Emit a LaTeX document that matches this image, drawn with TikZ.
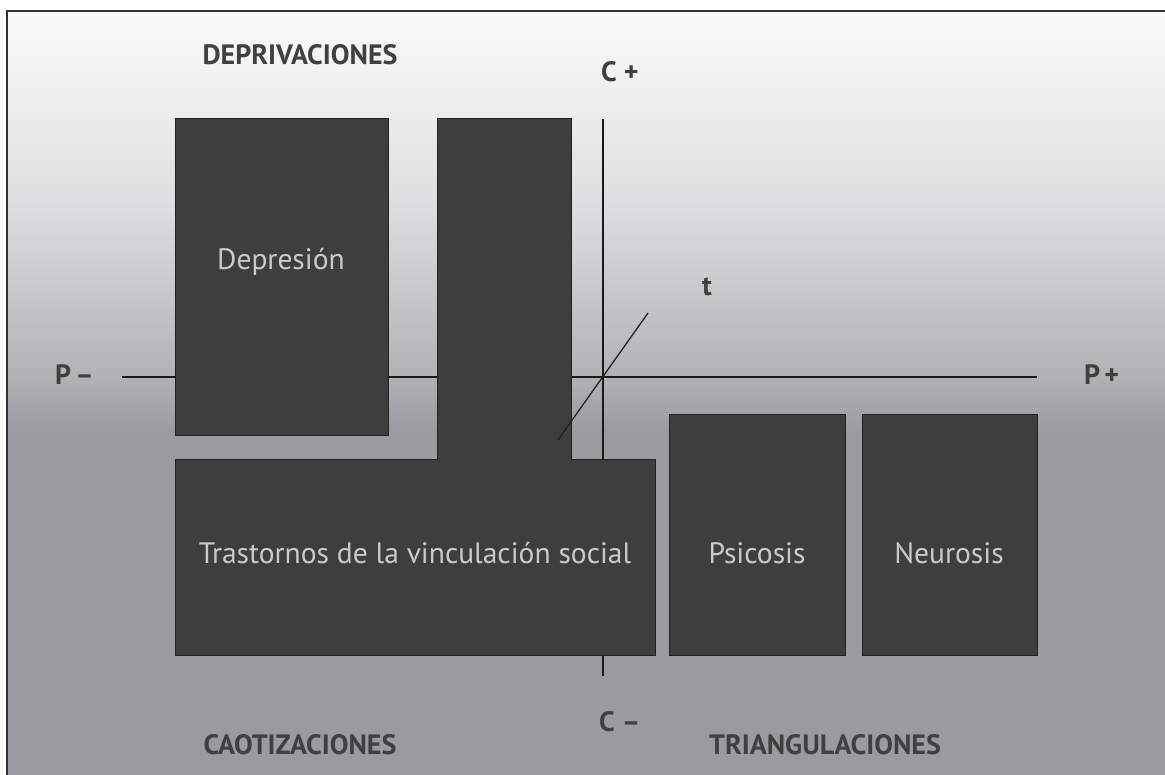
\documentclass[tikz,border=0pt]{standalone}
\usepackage{fontspec}
\setmainfont{PT Sans}
\definecolor{boxc}{HTML}{3E3E3E}
\definecolor{edgec}{HTML}{222222}
\definecolor{lblc}{HTML}{404040}
\definecolor{txtc}{HTML}{C9CACB}
\definecolor{bgA}{HTML}{FBFBFB}
\definecolor{bgB}{HTML}{DEDFE0}
\definecolor{bgC}{HTML}{B1B2B4}
\definecolor{bgD}{HTML}{9A9B9F}
\tikzset{
  lbl/.style={text=lblc, font=\fontsize{28}{32}\selectfont\bfseries, inner sep=0pt},
  boxtxt/.style={text=txtc, font=\fontsize{29.5}{34}\selectfont, inner sep=0pt},
  box/.style={fill=boxc, draw=edgec, line width=1pt},
  axis/.style={draw=black!90, line width=1.6pt},
}
\begin{document}
\begin{tikzpicture}[x=1pt,y=-1pt]
\useasboundingbox (0,0) rectangle (1165,775);
% background
\fill[white] (0,0) rectangle (1165,775);
\shade[top color=bgA, bottom color=bgB] (7,11) rectangle (1165,200.5);
\shade[top color=bgB, bottom color=bgC] (7,200) rectangle (1165,377.5);
\shade[top color=bgC, bottom color=bgD] (7,377) rectangle (1165,430.5);
\fill[bgD] (7,430) rectangle (1165,775);
\draw[line width=2pt, draw=black!80] (7,776) -- (7,11) -- (1166,11);
% axis coordinates
\coordinate (xl) at (122,377);
\coordinate (xr) at (1037,377);
\coordinate (yt) at (603,119);
\coordinate (yb) at (603,676);
\coordinate (o) at (603,377);
\coordinate (ta) at (558,440);
\coordinate (tb) at (648,313);
\draw[axis] (xl) -- (xr);
\draw[axis] (yt) -- (yb);
% boxes
\draw[box] (175,119) rectangle (388,436);
\draw[box] (437,119) -- (571,119) -- (571,460) -- (655,460) -- (655,655) -- (175,655) -- (175,460) -- (437,460) -- cycle;
\draw[box] (669,415) rectangle (845,655);
\draw[box] (862,415) rectangle (1037,655);
\draw[line width=1.3pt, draw=edgec] (ta) -- (tb);
% box texts
\node[boxtxt] (depr) at (281,262) {Depresión};
\node[boxtxt] (tras) at (415,553) {Trastornos de la vinculación social};
\node[boxtxt] (psic) at (757,553) {Psicosis};
\node[boxtxt] (neur) at (949,553) {Neurosis};
% labels
\node[lbl] (dep) at (300,55) {DEPRIVACIONES};
\node[lbl] (cao) at (300,745) {CAOTIZACIONES};
\node[lbl] (tri) at (825,745) {TRIANGULACIONES};
\node[lbl, anchor=west] (cp) at (601,72) {C +};
\node[lbl, anchor=west] (cm) at (599,722) {C –};
\node[lbl, anchor=west] (pm) at (55,375) {P\hspace{0.15em}–};
\node[lbl, anchor=west] (pp) at (1084,375) {P\hspace{0.15em}+};
\node[lbl] (t) at (707,287) {t};
\end{tikzpicture}
\end{document}
